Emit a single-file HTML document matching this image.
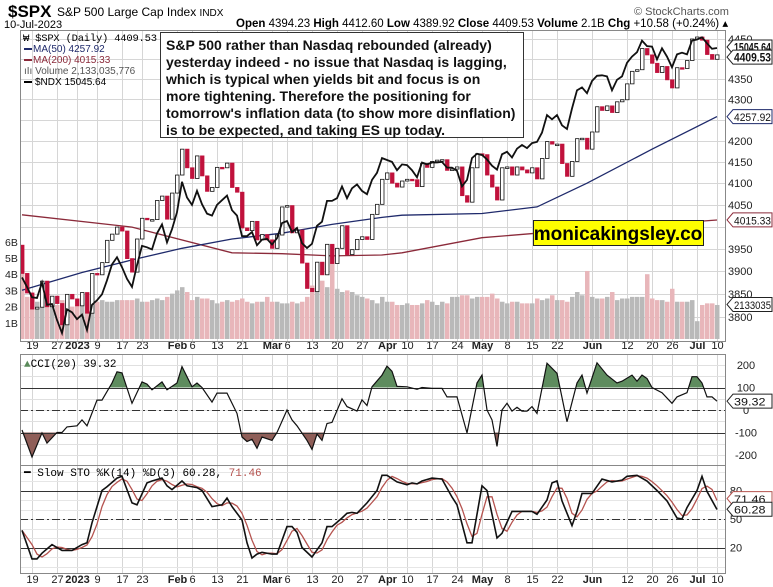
<!DOCTYPE html>
<html><head><meta charset="utf-8"><style>
body{margin:0;background:#fff;}
svg{display:block;font-family:"Liberation Sans",sans-serif;}
</style></head><body>
<svg id="chart" width="773" height="587" viewBox="0 0 773 587">
<rect x="0" y="0" width="773" height="587" fill="#fff"/>
<g id="grid"></g>
<g id="vol"></g>
<g id="main"></g>
<g id="cci"></g>
<g id="sto"></g>
<g id="axes"></g>

<text x="8" y="17" font-size="17" font-weight="bold">$SPX</text>
<text x="57" y="16" font-size="12">S&amp;P 500 Large Cap Index <tspan font-size="10">INDX</tspan></text>
<text x="4" y="28" font-size="11">10-Jul-2023</text>
<text x="236" y="27" font-size="11.5"><tspan font-weight="bold">Open</tspan> 4394.23 <tspan font-weight="bold">High</tspan> 4412.60 <tspan font-weight="bold">Low</tspan> 4389.92 <tspan font-weight="bold">Close</tspan> 4409.53 <tspan font-weight="bold">Volume</tspan> 2.1B <tspan font-weight="bold">Chg</tspan> +10.58 (+0.24%) ▴</text>
<text x="634" y="15" font-size="11" fill="#555">© StockCharts.com</text>

<g font-size="10">
<text x="23" y="41" font-family="Liberation Mono, monospace" font-size="10.5" textLength="134">₩ $SPX (Daily) 4409.53</text>
<line x1="24" y1="49" x2="32" y2="49" stroke="#1f2a6b" stroke-width="2"/>
<text x="33" y="52" fill="#1f2a6b">MA(50) 4257.92</text>
<line x1="24" y1="60" x2="32" y2="60" stroke="#8b2a3a" stroke-width="2"/>
<text x="33" y="63" fill="#8b2a3a">MA(200) 4015.33</text>
<text x="24" y="74" fill="#555">ıIı Volume 2,133,035,776</text>
<line x1="24" y1="82" x2="32" y2="82" stroke="#000" stroke-width="2"/>
<text x="35" y="85">$NDX 15045.64</text>
</g>

<g>
<rect x="160.5" y="32.5" width="363" height="105" fill="#fff" stroke="#333"/>
<text font-size="14" font-weight="bold" fill="#111">
<tspan x="166" y="50">S&amp;P 500 rather than Nasdaq rebounded (already)</tspan>
<tspan x="166" y="67">yesterday indeed - no issue that Nasdaq is lagging,</tspan>
<tspan x="166" y="84">which is typical when yields bit and focus is on</tspan>
<tspan x="166" y="101">more tightening. Therefore the positioning for</tspan>
<tspan x="166" y="118">tomorrow's inflation data (to show more disinflation)</tspan>
<tspan x="166" y="135">is to be expected, and taking ES up today.</tspan>
</text>
</g>
<g>
<rect x="533.5" y="220.5" width="170" height="25" fill="#ffff00" stroke="#222"/>
<text x="618" y="240" font-size="19" font-weight="bold" text-anchor="middle">monicakingsley.co</text>
</g>
<text x="24" y="367" font-family="Liberation Mono, monospace" font-size="11"><tspan fill="#5a8a5a">▲</tspan>CCI(20) 39.32</text>
<text x="24" y="476" font-family="Liberation Mono, monospace" font-size="11">━ Slow STO %K(14) %D(3) 60.28, <tspan fill="#b5534f">71.46</tspan></text>
</svg>
<script>
const closes=[3895,3852,3817,3821,3878,3822,3845,3829,3783,3849,3839,
3824,3853,3808,3895,3892,3919,3969,3983,3999,3990,3928,3898,3972,4019,4016,4016,4060,4070,4017,4077,
4119,4180,4136,4111,4164,4117,4081,4090,4137,4136,4147,4090,4079,3997,3991,4012,3970,3982,3970,
3951,3981,4045,4048,3986,3992,3918,3862,3855,3920,3892,3960,3917,3951,4002,3937,3948,3971,3977,3971,4028,4051,4109,
4124,4100,4091,4105,4109,4108,4092,4146,4137,4151,4154,4155,4130,4133,4138,4071,4056,4136,4169,
4167,4119,4091,4061,4136,4138,4119,4138,4131,4124,4136,4110,4158,4198,4192,4192,4146,4116,4151,4205,4206,4180,
4221,4282,4273,4284,4268,4294,4299,4338,4369,4373,4426,4410,4389,4366,4381,4348,4328,4378,4376,4396,4450,
4455,4447,4411,4399,4410];
const firstOpen=3958;
const ndx=[11420,11290,11150,11140,11350,11050,11060,10850,10680,10990,10950,
10860,10920,10720,11050,11110,11190,11380,11600,11700,11560,11400,11290,11590,11860,11840,11810,12040,12170,11910,12100,
12350,12810,12570,12460,12670,12470,12330,12300,12460,12530,12600,12380,12300,12000,12000,12060,11870,11950,11960,
11880,11970,12190,12220,12060,12120,11900,11830,11890,12150,12210,12520,12520,12560,12740,12560,12710,12770,12670,12620,12840,12950,13180,
13150,13120,12990,13080,13070,12990,12880,13110,13080,13110,13110,13120,13030,13030,12980,12740,12840,13180,13250,
13230,13160,13060,13000,13240,13280,13190,13330,13390,13340,13420,13440,13590,13880,13810,13880,13710,13650,13990,14300,14350,14250,
14460,14550,14560,14540,14300,14480,14540,14780,14890,14970,15180,15080,15070,14840,15040,14890,14700,14930,14960,14930,15180,
15200,15240,15130,15030,15045];
const volumes=[4.9,2.6,2.5,2.3,2.4,2.1,2.2,2.1,2.4,2.3,2.0,
2.1,2.2,2.4,2.5,2.3,2.4,2.3,2.3,2.4,2.4,2.4,2.4,2.5,2.3,2.3,2.4,2.5,2.4,2.6,2.8,
3.0,3.2,2.9,2.4,2.6,2.5,2.5,2.4,2.2,2.3,2.4,2.3,2.4,2.5,2.3,2.2,2.3,2.3,2.6,
2.3,2.3,2.2,2.2,2.3,2.2,2.3,2.6,3.3,4.0,3.6,3.2,5.8,3.1,2.9,3.0,2.9,2.7,2.6,2.5,2.4,2.2,2.6,
2.3,2.3,2.1,2.1,2.2,2.1,2.1,2.2,2.4,2.3,2.1,2.3,2.2,2.6,2.6,2.7,2.7,2.5,2.6,
2.6,2.6,2.8,2.5,2.3,2.2,2.3,2.3,2.2,2.2,2.2,2.5,2.4,2.5,2.7,2.4,2.4,2.3,2.6,2.9,2.7,4.2,
2.6,2.5,2.5,2.6,2.9,2.4,2.5,2.5,2.6,2.6,2.6,4.0,2.5,2.4,2.4,2.3,3.1,2.3,2.3,2.3,2.4,
1.1,2.1,2.2,2.2,2.1];
const ma50Idx=[0,12,22,32,42,52,62,72,76,92,103,113,126,139];
const ma50Val=[3858,3897,3925,3951,3972,3985,4005,4021,4026,4030,4045,4100,4180,4258];
const ma200Idx=[0,22,42,52,62,72,76,92,103,139];
const ma200Val=[4027,3999,3941,3939,3934,3936,3941,3975,3985,4015];
const cciIdx=[0,2,4,5,7,8,9,11,12,13,15,16,18,19,20,22,24,25,26,28,29,31,32,34,35,36,38,39,41,43,44,45,46,47,48,50,51,53,54,55,57,58,59,60,61,62,64,65,67,68,69,70,72,73,74,75,77,79,80,82,84,85,87,89,91,92,93,94,95,96,97,98,99,100,101,102,103,105,107,109,111,112,113,115,117,119,120,122,123,124,125,126,128,130,131,133,134,135,136,137,138,139];
const cciVal=[-89,-209,-102,-147,-100,-100,-75,-70,-44,-70,44,44,120,170,165,30,125,115,90,125,90,120,193,103,120,100,35,75,75,-15,-120,-140,-130,-170,-120,-135,-100,0,-44,-70,-135,-175,-107,-135,-60,-55,50,15,-5,45,20,103,155,195,172,105,103,92,100,96,96,58,58,-102,120,155,0,-44,-162,0,30,-5,12,-5,-5,15,-15,208,163,-52,120,155,75,210,155,120,128,155,128,155,140,100,77,30,58,77,148,148,120,58,58,39];
const stoKIdx=[0,2,3,4,6,8,10,12,13,14,16,17,19,20,22,23,25,26,28,29,30,32,33,35,36,38,40,41,42,44,45,46,47,48,50,51,53,54,55,56,58,60,61,62,64,65,66,67,69,71,72,73,75,77,78,79,80,82,84,86,87,89,90,92,93,95,96,98,100,102,103,105,106,107,108,110,111,112,114,116,118,120,121,123,125,127,129,131,132,133,135,136,137,139];
const stoKVal=[38,8,8,14,23,17,17,23,25,46,80,84,93,95,67,65,88,90,93,85,81,90,85,83,80,63,65,72,63,49,25,9,13,15,13,13,42,42,36,20,10,25,42,42,51,56,57,56,67,80,96,96,89,86,88,87,90,93,92,73,65,25,25,85,80,30,35,58,58,58,55,70,88,90,69,43,58,77,77,92,89,91,95,96,90,80,69,51,50,62,80,95,79,60];
const priceTicks=[4450,4350,4300,4200,4150,4100,4050,3950,3900,3850,3800];
const volTicks=["1B","2B","3B","4B","5B","6B"];
const cciTicks=[200,100,0,-100,-200];
const stoTicks=[80,50,20];
const dateTicks=[["2022-12-19","19"],["2022-12-27","27"],["2023-01-03","2023"],["2023-01-09","9"],["2023-01-17","17"],["2023-01-23","23"],["2023-02-01","Feb"],["2023-02-06","6"],["2023-02-13","13"],["2023-02-21","21"],["2023-03-01","Mar"],["2023-03-06","6"],["2023-03-13","13"],["2023-03-20","20"],["2023-03-27","27"],["2023-04-03","Apr"],["2023-04-10","10"],["2023-04-17","17"],["2023-04-24","24"],["2023-05-01","May"],["2023-05-08","8"],["2023-05-15","15"],["2023-05-22","22"],["2023-06-01","Jun"],["2023-06-12","12"],["2023-06-20","20"],["2023-06-26","26"],["2023-07-03","Jul"],["2023-07-10","10"]];
const boldTicks=["2023","Feb","Mar","Apr","May","Jun","Jul"];

const NS="http://www.w3.org/2000/svg";
function el(tag,attrs,parent){const e=document.createElementNS(NS,tag);for(const k in attrs)e.setAttribute(k,attrs[k]);parent.appendChild(e);return e;}
const L=20,R=725,MT=30,MB=341,CT=354,CB=465,ST=465,SB=573;
const holidays=new Set(["2022-12-26","2023-01-02","2023-01-16","2023-02-20","2023-04-07","2023-05-29","2023-06-19","2023-07-04"]);
const dates=[];
{let d=new Date(Date.UTC(2022,11,15));while(dates.length<closes.length){const s=d.toISOString().slice(0,10);const wd=d.getUTCDay();if(wd!==0&&wd!==6&&!holidays.has(s))dates.push(s);d.setUTCDate(d.getUTCDate()+1);}}
const xS=i=>22+5*i;
const yP=p=>39+1760*Math.log(4450/p);
const yN=v=>48+832*Math.log(15045/v);
const yV=v=>339-v*16.2;
const yC=v=>410-v*0.225;
const yS=v=>519-(v-50)*0.95;

const grid=document.getElementById('grid'),axes=document.getElementById('axes');
dateTicks.forEach(t=>{const i=dates.indexOf(t[0]);if(i<0)return;const x=xS(i)+0.5;
[[MT,MB],[CT,CB],[ST,SB]].forEach(r=>{const g=el('line',{x1:x,x2:x,y1:r[0],y2:r[1],stroke:'#d6d6d6'},grid);});
[349,583].forEach(yy=>{const tx=el('text',{x:x,y:yy,'font-size':11,'text-anchor':'middle',fill:'#222','font-weight':boldTicks.includes(t[1])?'bold':'normal'},axes);tx.textContent=t[1];});
});
for(let p=3800;p<=4450;p+=50){const y=Math.round(yP(p))+0.5;const g=el('line',{x1:L,x2:R,y1:y,y2:y,stroke:'#d6d6d6'},grid);}
priceTicks.forEach(p=>{const t=el('text',{x:728,y:yP(p)+4,'font-size':11,fill:'#222'},axes);t.textContent=p;});
volTicks.forEach((v,k)=>{const t=el('text',{x:5,y:yV(k+1)+4,'font-size':10.5,fill:'#222'},axes);t.textContent=v;});
for(let v=-250;v<=250;v+=50){const y=Math.round(yC(v))+0.5;if(y<CT||y>CB)continue;const g=el('line',{x1:L,x2:R,y1:y,y2:y,stroke:'#e0e0e0'},grid);}
for(let v=0;v<=100;v+=10){const y=Math.round(yS(v))+0.5;if(y<ST||y>SB)continue;const g=el('line',{x1:L,x2:R,y1:y,y2:y,stroke:'#e6e6e6'},grid);}

const vol=document.getElementById('vol');
volumes.forEach((v,i)=>{const up=i===0?false:closes[i]>=closes[i-1];const y=yV(v);const r=el('rect',{x:xS(i)-2,y:y,width:4.5,height:339-y,fill:up?'#b9b9b9':'#e8b6ba'},vol);});

const main=document.getElementById('main');
function linePath(idx,val,fx,fy){return idx.map((d,k)=>(k?'L':'M')+fx(d).toFixed(1)+','+fy(val[k]).toFixed(1)).join('');}
const m200=el('path',{d:linePath(ma200Idx,ma200Val,xS,yP),fill:'none',stroke:'#8b2a3a','stroke-width':1.3},main);

const m50=el('path',{d:linePath(ma50Idx,ma50Val,xS,yP),fill:'none',stroke:'#1f2a6b','stroke-width':1.3},main);

closes.forEach((c,i)=>{const o=i===0?firstOpen:closes[i-1];const up=c>=o;const y1=yP(Math.max(o,c)),y2=yP(Math.min(o,c));
const r=el('rect',{x:xS(i)-1.5,y:y1,width:3.5,height:Math.max(1.5,y2-y1),fill:up?'#fff':'#c0123c',stroke:up?'#111':'#c0123c','stroke-width':0.8},main);
});
const nd=el('path',{d:ndx.map((v,i)=>(i?'L':'M')+xS(i)+','+yN(v).toFixed(1)).join(''),fill:'none',stroke:'#111','stroke-width':1.8},main);


const cci=document.getElementById('cci');
const defs=el('defs',{},document.getElementById('chart'));
el('rect',{x:L,y:CT,width:R-L,height:yC(100)-CT},el('clipPath',{id:'cciUp'},defs));
el('rect',{x:L,y:yC(-100),width:R-L,height:CB-yC(-100)},el('clipPath',{id:'cciDn'},defs));
const cp=linePath(cciIdx,cciVal,xS,yC);
const a1=el('path',{d:cp+'L'+xS(cciIdx[cciIdx.length-1])+','+yC(100)+'L'+xS(cciIdx[0])+','+yC(100)+'Z',fill:'#5e8c5e','clip-path':'url(#cciUp)'},cci);

const a2=el('path',{d:cp+'L'+xS(cciIdx[cciIdx.length-1])+','+yC(-100)+'L'+xS(cciIdx[0])+','+yC(-100)+'Z',fill:'#8f5e58','clip-path':'url(#cciDn)'},cci);

[[100,'none'],[-100,'none'],[0,'8,3,2,3']].forEach(h=>{const y=Math.round(yC(h[0]))+0.5;const l=el('line',{x1:L,x2:R,y1:y,y2:y,stroke:'#333','stroke-dasharray':h[1]},cci);});
const cl=el('path',{d:cp,fill:'none',stroke:'#111','stroke-width':1.2},cci);

cciTicks.forEach(v=>{const t=el('text',{x:746,y:yC(v)+4,'font-size':11,'text-anchor':'middle',fill:'#222'},axes);t.textContent=v;});

const sto=document.getElementById('sto');
[[80,'none'],[20,'none'],[50,'8,3,2,3']].forEach(h=>{const y=Math.round(yS(h[0]))+0.5;const l=el('line',{x1:L,x2:R,y1:y,y2:y,stroke:'#333','stroke-dasharray':h[1]},sto);});
const kDaily=[];for(let i=0;i<closes.length;i++){let k=0;while(k<stoKIdx.length-1&&stoKIdx[k+1]<i)k++;const a=stoKIdx[k],b=stoKIdx[Math.min(k+1,stoKIdx.length-1)];const t=b===a?0:(i-a)/(b-a);kDaily.push(stoKVal[k]+(stoKVal[Math.min(k+1,stoKVal.length-1)]-stoKVal[k])*Math.max(0,Math.min(1,t)));}
const dDaily=kDaily.map((v,i)=>{const s=kDaily.slice(Math.max(0,i-2),i+1);return s.reduce((p,q)=>p+q,0)/s.length;});
const dl=el('path',{d:dDaily.map((v,i)=>(i?'L':'M')+xS(i)+','+yS(v).toFixed(1)).join(''),fill:'none',stroke:'#b5534f','stroke-width':1.3},sto);

const kl=el('path',{d:linePath(stoKIdx,stoKVal,xS,yS),fill:'none',stroke:'#111','stroke-width':1.6},sto);

stoTicks.forEach(v=>{const t=el('text',{x:736,y:yS(v)+4,'font-size':11,'text-anchor':'middle',fill:'#222'},axes);t.textContent=v;});

[[L,MT,R,MB],[L,CT,R,CB],[L,ST,R,SB]].forEach(b=>{const r=el('rect',{x:b[0]+0.5,y:b[1]+0.5,width:b[2]-b[0],height:b[3]-b[1],fill:'none',stroke:'#888'},axes);});

function tag(y,txt,name,bold,color){const g=el('g',{},axes);
el('path',{d:`M${R+2},${y} L${R+8},${y-7} L${772},${y-7} L${772},${y+7} L${R+8},${y+7} Z`,fill:'#fff',stroke:color||'#222'},g);
const t=el('text',{x:R+9,y:y+4.5,'font-size':bold?12:11,'font-weight':bold?'bold':'normal',fill:'#111',textLength:Math.min(txt.length*6.3,37),lengthAdjust:'spacingAndGlyphs'},g);t.textContent=txt;}
tag(47,'15045.64','ndx-value-tag',true);
tag(yP(4409.53)+2,'4409.53','spx-value-tag',true);
tag(yP(4257.92),'4257.92','ma50-value-tag',false,'#1f2a6b');
tag(yP(4015.33),'4015.33','ma200-value-tag',false,'#8b2a3a');
tag(yV(2.133),'2133035','volume-value-tag',false);
tag(yC(39.32),'39.32','cci-value-tag',false);
tag(yS(71.46),'71.46','sto-d-value-tag',false,'#b5534f');
tag(yS(60.28),'60.28','sto-k-value-tag',false);
</script>
</body></html>
